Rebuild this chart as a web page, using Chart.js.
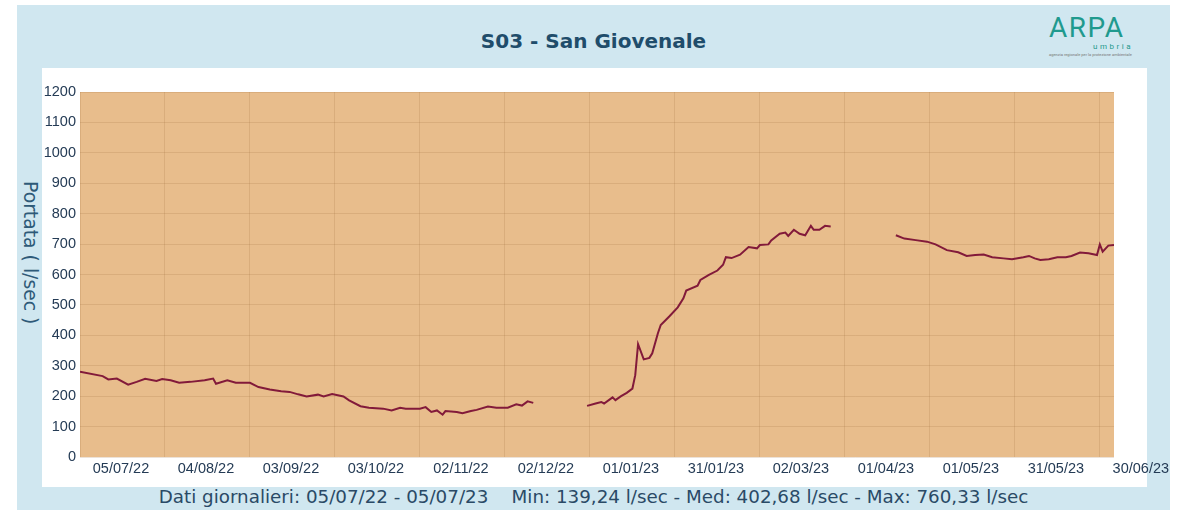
<!DOCTYPE html>
<html>
<head>
<meta charset="utf-8">
<script src="https://cdn.jsdelivr.net/npm/chart.js@4.4.0/dist/chart.umd.min.js"></script>
<style>
  body { margin: 0; background: #fff; width: 1187px; height: 510px; overflow: hidden; position: relative; }
  #frame { position: absolute; left: 17px; top: 5px; width: 1153px; height: 505px; background: #d0e7f0; }
  #panel { position: absolute; left: 42px; top: 68px; width: 1105px; height: 419px; background: #fff; }
  #wrap { position: absolute; left: 0; top: 0; width: 1187px; height: 510px; }
  #titolo { position: absolute; left: 17px; width: 1153px; top: 29px; line-height: 26px; text-align: center;
    font: bold 20px "DejaVu Sans", Verdana, sans-serif; color: #1f4d6b; }
  #ytitolo { position: absolute; left: 20px; top: 181px; writing-mode: vertical-rl;
    font: 18.8px "DejaVu Sans", Verdana, sans-serif; color: #2e5a78; }
  #piede { position: absolute; left: 17px; width: 1153px; top: 486px; line-height: 22px; text-align: center;
    font: 18.3px "DejaVu Sans", Verdana, sans-serif; color: #2a4a66; white-space: pre; }
  #logo { position: absolute; left: 1049px; top: 14px; width: 84px; color: #1f9a8e; font-family: Roboto, sans-serif; }
  #logo .a { font-size: 28px; font-weight: 400; letter-spacing: 1.5px; line-height: 28px; }
  #logo .u { font-size: 8px; letter-spacing: 2.5px; text-align: right; line-height: 9px; }
  #logo .s { font-size: 4px; color: #777; line-height: 7px; white-space: nowrap; }
</style>
</head>
<body>
<div id="frame"></div>
<div id="panel"></div>
<div id="titolo">S03 - San Giovenale</div>
<div id="logo"><div class="a">ARPA</div><div class="u">umbria</div><div class="s">agenzia regionale per la protezione ambientale</div></div>
<div id="ytitolo">Portata ( l/sec )</div>
<div id="piede">Dati giornalieri: 05/07/22 - 05/07/23    Min: 139,24 l/sec - Med: 402,68 l/sec - Max: 760,33 l/sec</div>
<div id="wrap"><canvas id="grafico" width="1187" height="510"></canvas></div>
<script>
// giorni dal 05/07/22, null = dati mancanti
var giorno = [0,8,10,13,17,20,23,27,29,32,35,39,44,47,48,52,55,60,63,67,71,74,77,80,84,86,89,93,95,99,
  102,107,110,113,115,120,122,124,126,128,129,133,135,138,140,144,147,151,154,156,158,160,
  170,
  179,182,184,185,188,189,191,193,195,196,197,199,201,202,204,205,208,211,213,214,218,219,222,225,227,228,
  230,233,236,239,240,243,244,247,249,250,252,254,256,258,259,261,263,265,
  276,
  288,291,295,299,302,306,310,313,316,319,322,326,329,333,335,337,339,342,345,348,350,353,356,359,360,361,363,365];
var portata = [280,266,255,258,238,247,257,250,256,252,244,247,252,258,241,252,244,244,230,222,216,214,206,199,205,199,207,199,186,167,
  162,159,153,162,159,159,164,148,153,139,151,148,144,151,155,166,162,162,173,169,183,178,
  null,
  168,176,181,176,196,187,200,211,225,269,371,321,326,341,407,434,462,492,522,547,563,582,599,613,632,657,
  654,665,690,686,697,699,712,734,738,727,747,734,729,760,747,747,760,758,
  null,
  729,718,713,708,699,680,673,661,664,666,657,653,650,657,661,653,648,650,657,657,661,672,670,664,699,675,695,697];
var tickGiorni = [0,30,60,90,120,150,180,210,240,270,300,330,360];
var yTicks = [0,100,200,300,400,500,600,700,800,900,1000,1100,1200];
var inizio = Date.UTC(2022, 6, 5);

function fmtData(g) {
  var d = new Date(inizio + g * 86400000);
  var dd = String(d.getUTCDate()).padStart(2, '0');
  var mm = String(d.getUTCMonth() + 1).padStart(2, '0');
  var yy = String(d.getUTCFullYear() % 100).padStart(2, '0');
  return dd + '/' + mm + '/' + yy;
}

var punti = giorno.map(function (g, i) { return { x: g, y: portata[i] }; });

var sfondo = {
  id: 'sfondo',
  beforeDraw: function (chart) {
    var a = chart.chartArea, ctx = chart.ctx;
    ctx.save();
    ctx.fillStyle = '#e8bd8c';
    ctx.fillRect(a.left, a.top, a.right - a.left, a.bottom - a.top);
    ctx.restore();
  }
};

var gridCol = 'rgba(160,110,60,0.2)';
var tickFont = { family: '"Liberation Sans", Arial, sans-serif', size: 14.5 };

new Chart('grafico', {
  type: 'line',
  data: {
    datasets: [{
      data: punti,
      borderColor: '#821a3a',
      borderWidth: 2,
      pointRadius: 0,
      tension: 0,
      spanGaps: false
    }]
  },
  options: {
    responsive: false,
    animation: false,
    layout: { padding: { left: 0, right: 73, top: 92, bottom: 0 } },
    plugins: { legend: { display: false }, tooltip: { enabled: false } },
    scales: {
      x: {
        type: 'linear',
        min: 0,
        max: 365,
        afterBuildTicks: function (s) { s.ticks = tickGiorni.map(function (v) { return { value: v }; }); },
        afterFit: function (s) { s.height = 53; },
        grid: { color: gridCol, drawTicks: false },
        border: { display: false },
        ticks: {
          autoSkip: false, maxRotation: 0, labelOffset: 41, padding: 3,
          color: '#243b55', font: tickFont,
          callback: function (v) { return fmtData(v); }
        }
      },
      y: {
        min: 0,
        max: 1200,
        afterBuildTicks: function (s) { s.ticks = yTicks.map(function (v) { return { value: v }; }); },
        afterFit: function (s) { s.width = 80; },
        grid: { color: gridCol, drawTicks: false },
        border: { display: false },
        ticks: { padding: 4, color: '#243b55', font: tickFont, callback: function (v) { return String(v); } }
      }
    }
  },
  plugins: [sfondo]
});
</script>
</body>
</html>
